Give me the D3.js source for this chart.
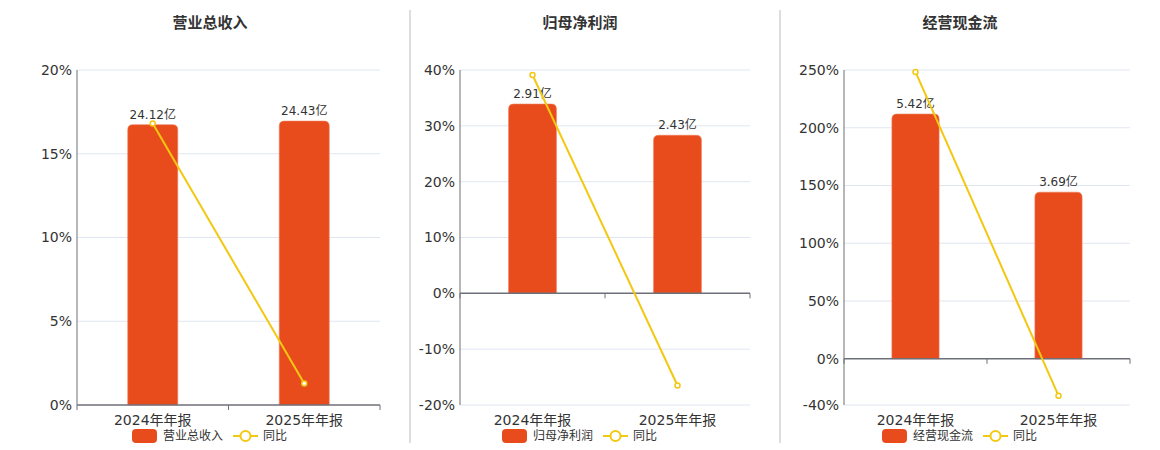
<!DOCTYPE html>
<html>
<head>
<meta charset="utf-8">
<script src="https://cdn.jsdelivr.net/npm/d3@7/dist/d3.min.js"></script>
<style>
  body { margin: 0; background: #fff; }
  text { font-family: "DejaVu Sans", "Noto Sans CJK SC", sans-serif; }
</style>
</head>
<body>
<script>
var categories = ["2024年年报", "2025年年报"];

var revenueValues = [24.12, 24.43];
var revenueYoy = [16.8, 1.29];
var revenueTicks = [0, 5, 10, 15, 20];

var profitValues = [2.91, 2.43];
var profitYoy = [39.1, -16.5];
var profitTicks = [-20, -10, 0, 10, 20, 30, 40];

var cashValues = [5.42, 3.69];
var cashYoy = [248.3, -31.9];
var cashTicks = [-40, 0, 50, 100, 150, 200, 250];

var titles = ["营业总收入", "归母净利润", "经营现金流"];

var width = 1160, height = 450;
var barColor = "#e84c1d", lineColor = "#f2c811";

var svg = d3.select("body").append("svg")
    .attr("width", width)
    .attr("height", height);

// separators between panels
[410, 780].forEach(function(x) {
  svg.append("line")
    .attr("x1", x).attr("x2", x)
    .attr("y1", 10).attr("y2", 443)
    .attr("stroke", "#bbb").attr("stroke-width", 1);
});

var panels = [
  {title: titles[0], values: revenueValues, yoy: revenueYoy, ticks: revenueTicks, left: 77, right: 380, center: 210},
  {title: titles[1], values: profitValues, yoy: profitYoy, ticks: profitTicks, left: 460, right: 750, center: 580},
  {title: titles[2], values: cashValues, yoy: cashYoy, ticks: cashTicks, left: 844, right: 1130, center: 960}
];

var plotTop = 70, plotBottom = 405;

function topRounded(x, y, w, h, r) {
  r = Math.min(r, h);
  return "M" + x + "," + (y + h) +
    "V" + (y + r) +
    "Q" + x + "," + y + " " + (x + r) + "," + y +
    "H" + (x + w - r) +
    "Q" + (x + w) + "," + y + " " + (x + w) + "," + (y + r) +
    "V" + (y + h) + "Z";
}

panels.forEach(function(p) {
  var g = svg.append("g");

  var y = d3.scaleLinear()
    .domain(d3.extent(p.ticks))
    .range([plotBottom, plotTop]);
  var zeroY = y(0);

  // hidden axis for bar amounts, sharing the zero line
  var yBar = d3.scaleLinear()
    .domain([0, d3.max(p.values) * 1.18])
    .range([zeroY, plotTop]);

  var x = d3.scaleBand()
    .domain(categories)
    .range([p.left, p.right])
    .paddingInner(0).paddingOuter(0);
  var barW = x.bandwidth() * 0.33;

  // title
  g.append("text")
    .attr("x", p.center).attr("y", 28)
    .attr("text-anchor", "middle")
    .attr("font-size", 15).attr("font-weight", "bold")
    .attr("fill", "#333")
    .text(p.title);

  // gridlines
  g.selectAll(".grid").data(p.ticks.filter(function(t) { return t !== 0; }))
    .enter().append("line")
    .attr("x1", p.left).attr("x2", p.right)
    .attr("y1", function(d) { return y(d); })
    .attr("y2", function(d) { return y(d); })
    .attr("stroke", "#e0e6f1").attr("stroke-width", 1);

  // y tick labels
  g.selectAll(".ylab").data(p.ticks)
    .enter().append("text")
    .attr("x", p.left - 5)
    .attr("y", function(d) { return y(d); })
    .attr("dy", "0.35em")
    .attr("text-anchor", "end")
    .attr("font-size", 14)
    .attr("fill", "#333")
    .text(function(d) { return d + "%"; });

  // bars
  g.selectAll(".bar").data(p.values)
    .enter().append("path")
    .attr("d", function(d, i) {
      var cx = x(categories[i]) + x.bandwidth() / 2;
      return topRounded(cx - barW / 2, yBar(d), barW, zeroY - yBar(d), 5);
    })
    .attr("fill", barColor)
    .attr("stroke", "#f07a58").attr("stroke-width", 0.6);

  // bar labels
  g.selectAll(".blab").data(p.values)
    .enter().append("text")
    .attr("x", function(d, i) { return x(categories[i]) + x.bandwidth() / 2; })
    .attr("y", function(d) { return yBar(d) - 6; })
    .attr("text-anchor", "middle")
    .attr("font-size", 12)
    .attr("fill", "#333")
    .text(function(d) { return d.toFixed(2) + "亿"; });

  // axes
  g.append("line")
    .attr("x1", p.left).attr("x2", p.left)
    .attr("y1", plotTop).attr("y2", plotBottom)
    .attr("stroke", "#6e7079").attr("stroke-width", 1);
  g.append("line")
    .attr("x1", p.left).attr("x2", p.right)
    .attr("y1", zeroY).attr("y2", zeroY)
    .attr("stroke", "#6e7079").attr("stroke-width", 1.5);
  var edges = categories.map(function(c) { return x(c); }).concat([p.right]);
  g.selectAll(".xtick").data(edges)
    .enter().append("line")
    .attr("x1", function(d) { return d; }).attr("x2", function(d) { return d; })
    .attr("y1", zeroY).attr("y2", zeroY + 5)
    .attr("stroke", "#6e7079").attr("stroke-width", 1);

  // x labels
  g.selectAll(".xlab").data(categories)
    .enter().append("text")
    .attr("x", function(d) { return x(d) + x.bandwidth() / 2; })
    .attr("y", 425)
    .attr("text-anchor", "middle")
    .attr("font-size", 14)
    .attr("fill", "#333")
    .text(function(d) { return d; });

  // yoy line
  var line = d3.line()
    .x(function(d, i) { return x(categories[i]) + x.bandwidth() / 2; })
    .y(function(d) { return y(d); });
  g.append("path")
    .datum(p.yoy)
    .attr("d", line)
    .attr("fill", "none")
    .attr("stroke", lineColor).attr("stroke-width", 2);
  g.selectAll(".pt").data(p.yoy)
    .enter().append("circle")
    .attr("cx", function(d, i) { return x(categories[i]) + x.bandwidth() / 2; })
    .attr("cy", function(d) { return y(d); })
    .attr("r", 2.5)
    .attr("fill", "#fff")
    .attr("stroke", lineColor).attr("stroke-width", 1.5);

  // legend
  var c = p.center;
  g.append("rect")
    .attr("x", c - 78).attr("y", 429)
    .attr("width", 25).attr("height", 14)
    .attr("rx", 4)
    .attr("fill", barColor);
  g.append("text")
    .attr("x", c - 47).attr("y", 436)
    .attr("dy", "0.35em")
    .attr("font-size", 12).attr("fill", "#333")
    .text(p.title);
  g.append("line")
    .attr("x1", c + 23).attr("x2", c + 48)
    .attr("y1", 436).attr("y2", 436)
    .attr("stroke", lineColor).attr("stroke-width", 2);
  g.append("circle")
    .attr("cx", c + 35.5).attr("cy", 436)
    .attr("r", 5)
    .attr("fill", "#fff")
    .attr("stroke", lineColor).attr("stroke-width", 2);
  g.append("text")
    .attr("x", c + 53).attr("y", 436)
    .attr("dy", "0.35em")
    .attr("font-size", 12).attr("fill", "#333")
    .text("同比");
});
</script>
</body>
</html>
